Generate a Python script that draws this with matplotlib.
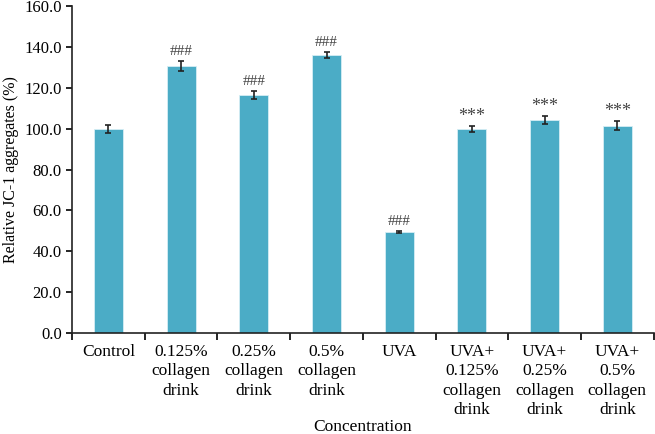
import matplotlib
matplotlib.use("Agg")
import matplotlib.pyplot as plt
import numpy as np
from matplotlib.ticker import FormatStrFormatter

categories = ["Control", "0.125%\ncollagen\ndrink", "0.25%\ncollagen\ndrink",
              "0.5%\ncollagen\ndrink", "UVA", "UVA+\n0.125%\ncollagen\ndrink",
              "UVA+\n0.25%\ncollagen\ndrink", "UVA+\n0.5%\ncollagen\ndrink"]
values = [99.8, 130.6, 116.4, 135.9, 49.4, 99.8, 104.3, 101.5]
errors = [2.0, 2.4, 1.8, 1.4, 0.6, 1.6, 2.0, 2.2]
marks = ["", "###", "###", "###", "###", "***", "***", "***"]

plt.rcParams['font.family'] = ['Liberation Serif', 'DejaVu Serif']

fig = plt.figure(figsize=(6.55, 4.34), dpi=100)
ax = fig.add_axes([0.110, 0.2327, 0.888, 0.7533])

x = np.arange(len(categories))
ax.bar(x, values, width=0.4, color="#4BACC6", edgecolor="#D6EEF5", linewidth=0.6,
       yerr=errors, capsize=2.5, error_kw=dict(ecolor="#222222", elinewidth=1.2, capthick=1.2))

for xi, v, e, m in zip(x, values, errors, marks):
    if m:
        fs = 13 if m == "***" else 11
        off = 0.6 if m == "***" else 1.5
        ax.text(xi, v + e + off, m, ha="center", va="bottom", fontsize=fs, color="#444444")

ax.set_xlim(-0.5, len(categories) - 0.5)
ax.set_ylim(0, 160)
ax.set_yticks(np.arange(0, 161, 20))
ax.yaxis.set_major_formatter(FormatStrFormatter("%.1f"))
ax.set_xticks(np.arange(-0.5, len(categories), 1.0))
ax.set_xticklabels([])
ax.set_xticks(x, minor=True)
ax.set_xticklabels(categories, minor=True, fontsize=12.5, linespacing=1.27, va="top")
ax.tick_params(axis="x", which="minor", length=0, pad=8)
ax.tick_params(axis="x", which="major", direction="out", length=5, width=1.2)
ax.tick_params(axis="y", direction="out", length=4, width=1.2, labelsize=12)

for s in ["top", "right"]:
    ax.spines[s].set_visible(False)
for s in ["left", "bottom"]:
    ax.spines[s].set_linewidth(1.2)
    ax.spines[s].set_color("#222222")

ax.set_ylabel("Relative JC-1 aggregates (%)", fontsize=11.5)
ax.set_xlabel("Concentration", fontsize=12.5)
ax.xaxis.set_label_coords(0.5, -0.262)

fig.savefig("out.png", dpi=100)
